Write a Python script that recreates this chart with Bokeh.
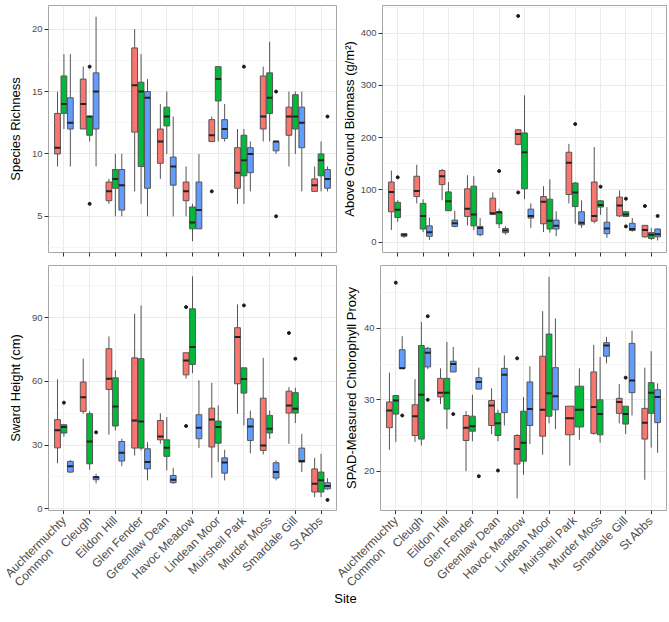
import math
from bokeh.plotting import figure
from bokeh.models import Range1d, FixedTicker, Label
from bokeh.core.properties import value
from bokeh.layouts import column, row
from bokeh.embed import file_html
from bokeh.resources import INLINE

SITES = ["Auchtermuchty\nCommon", "Cleugh", "Eildon Hill", "Glen Fender", "Greenlaw Dean",
         "Havoc Meadow", "Lindean Moor", "Muirsheil Park", "Murder Moss", "Smardale Gill", "St Abbs"]
GROUP_COLORS = ["#F8766D", "#00BA38", "#619CFF"]

# each entry: (lower whisker, Q1, median, Q3, upper whisker); None = group absent at that site
RICH_RED = [(9, 10, 10.5, 13.25, 15), (12, 12, 14, 16, 17), (6, 6.25, 7, 7.75, 8), (7, 11.75, 15.5, 18.5, 20),
            (8, 9.25, 11, 12, 14), (5, 6.25, 7, 7.75, 9), (11, 11, 11.5, 12.75, 13), (6, 7.25, 8.5, 10.5, 12),
            (11, 12, 13, 16.25, 17), (9, 11.5, 13, 13.75, 15), (7, 7, 7.5, 8, 9)]
RICH_GREEN = [(12, 13.25, 14, 16.25, 18), (11, 11.5, 13, 13, 13), (5, 7.25, 8, 8.75, 10), (6, 9, 15, 15.75, 18),
              (10, 12.25, 13, 13.75, 15), (3, 4, 4.5, 5.75, 6), (11, 14.25, 16, 17, 17), (6, 8.25, 9.5, 11.5, 12),
              (11, 13.25, 14.5, 16.5, 19), (10, 12, 13, 14.75, 15), (7, 8.25, 9.5, 10, 11)]
RICH_BLUE = [(9, 12, 12.5, 14.5, 18), (9, 12, 15, 16.5, 21), (5, 5.5, 7.5, 8.75, 10), (5, 7.25, 14.5, 15, 16),
             (5, 7.5, 9, 9.75, 13), (4, 4, 5.5, 7.75, 10), (11, 11.25, 12, 12.75, 14), (7, 8.5, 10, 10.5, 11),
             (10, 10.25, 11, 11, 11), (7, 10.5, 12.5, 13.75, 15), (7, 7.25, 8, 8.75, 9)]
# (site number, group index, value)
RICH_OUT = [(2, 1, 17), (2, 1, 6), (7, 0, 7), (8, 1, 17), (9, 2, 15), (9, 2, 5), (11, 2, 13)]

BIO_RED = [(23, 58, 96, 115, 137), (74, 87, 98, 126, 148), (80, 110, 126, 137, 140), (32, 49, 64, 102, 128),
           (52, 53, 55, 84, 95), (185, 187, 207, 215, 215), (19, 35, 77, 87, 107), (74, 91, 152, 172, 188),
           (36, 40, 50, 115, 182), (48, 50, 70, 86, 99), (8, 10, 23, 32, 32)]
BIO_GREEN = [(39, 47, 62, 76, 80), (19, 25, 50, 74, 82), (60, 60, 78, 96, 115), (23, 31, 53, 107, 126),
             (27, 35, 57, 58, 64), (82, 102, 172, 209, 281), (18, 25, 41, 82, 120), (35, 68, 95, 113, 115),
             (52, 67, 71, 79, 80), (48, 49, 53, 58, 59), (4, 7, 14, 18, 27)]
BIO_BLUE = [(8, 11, 14, 16, 17), (4, 11, 19, 31, 47), (28, 30, 36, 42, 60), (11, 14, 27, 30, 46),
            (14, 18, 22, 26, 30), (27, 46, 50, 63, 74), (11, 25, 31, 42, 59), (27, 33, 37, 58, 80),
            (8, 16, 26, 38, 67), (20, 22, 25, 36, 46), (3, 10, 15, 25, 26)]
BIO_OUT = [(1, 1, 124), (5, 1, 136), (6, 0, 433), (6, 0, 95), (8, 1, 226), (9, 1, 106), (10, 1, 83),
           (10, 1, 30), (11, 0, 69), (11, 2, 50)]

SW_RED = [(21.5, 28.7, 37, 42, 61), (44.8, 45.9, 52.6, 59.7, 70.7), (34.9, 56.2, 61.3, 75.4, 81.2),
          (25.1, 28.6, 41.6, 71.1, 91.9), (30.6, 32.5, 34.1, 41.6, 45), (61.3, 63.1, 69.9, 73.5, 73.5),
          (14.6, 29.1, 42.1, 47.4, 59.4), (44.8, 58.9, 80.9, 85.3, 96.3), (25.6, 27.5, 29.8, 52.1, 71.1),
          (30.6, 45.1, 48.7, 55.4, 57.3), (5.5, 7.9, 11.8, 18.8, 24)]
SW_GREEN = [(34, 35.7, 38.5, 39.6, 39.6), (18.4, 21.2, 31.7, 44.8, 45.9), (36.9, 39, 48.2, 61.7, 65.2),
            (27.5, 28.6, 41.1, 70.7, 95.8), (18.1, 24.7, 28.7, 32.5, 43.2), (63.9, 68, 76.2, 94.2, 109.5),
            (22, 30.9, 38.5, 41.3, 48.7), (39.3, 54.5, 61.1, 66.4, 66.4), (33, 35.7, 37.7, 44, 46.3),
            (40.4, 45.1, 47.1, 54.7, 57), (5.5, 7.9, 13.4, 17.3, 25.9)]
SW_BLUE = [(16.8, 17.3, 20, 22.3, 23), (12, 13.7, 14.9, 15.2, 16.5), (20.1, 22.5, 26.4, 31.7, 33),
           (13.4, 18.8, 22, 28.3, 31.4), (11.8, 12.3, 13.7, 15.7, 19.3), (28.6, 33, 38.2, 44.3, 60.5),
           (13.4, 16.8, 21.8, 24, 27.8), (26.2, 32.2, 38.8, 42.4, 46.3), (13.4, 14.5, 17.3, 21.7, 22.8),
           (17.3, 22, 22.5, 28.6, 35.3), (9, 9.4, 10.7, 12.3, 14.4)]
SW_OUT = [(1, 1, 50), (2, 2, 36), (6, 0, 95), (6, 0, 39), (8, 1, 95.8), (10, 0, 82.8), (10, 1, 70.7), (11, 2, 4.2)]

SP_RED = [(23, 26.1, 28.5, 29.7, 33.8), (24.1, 25, 27.7, 29.3, 32.9), (29.4, 30.4, 31, 33, 34.4),
          (20, 24.3, 26.1, 27.8, 28.4), (25.2, 26.4, 29.2, 29.9, 31.6), (16.2, 21, 23.1, 25, 25.2),
          (22.3, 24.9, 28.6, 36.1, 42.4), (20.8, 25.1, 27.4, 29.1, 29.1), (25.1, 25.3, 29, 33.9, 37.7),
          (26.7, 28.1, 29.7, 30.2, 32.2), (18.8, 24.5, 26.8, 28.8, 34.5)]
SP_GREEN = [(24.1, 28, 29.9, 30.6, 30.6), (23.6, 24.5, 30.7, 37.6, 40.9), (25.9, 28.7, 31, 33, 38.1),
            (24.2, 25.6, 26.3, 27.7, 30.7), (24.2, 25, 26.7, 28.1, 28.6), (19.5, 21.4, 24, 28.4, 30.4),
            (26.7, 27.7, 30.9, 39.2, 47.2), (24.4, 26.2, 28.6, 31.9, 34.4), (24, 25.1, 28, 30, 36),
            (25.2, 26.6, 28, 29.1, 29.1), (23.3, 28.1, 31, 32.4, 36.8)]
SP_BLUE = [(34.4, 34.4, 34.4, 37, 38.9), (34.3, 34.6, 36.6, 37.2, 37.4), (33.9, 33.9, 35, 35.4, 37.4),
           (31.5, 31.5, 32.5, 33.1, 34.5), (26.4, 28.2, 33.5, 34.4, 36.2), (23.8, 26.4, 28.7, 32.5, 34.7),
           (25.9, 28.6, 30.5, 34.5, 41.4), None, (35.1, 36.1, 37.6, 38, 38.8),
           (27.8, 31, 32.7, 37.9, 39.7), (22.6, 26.8, 30.4, 31.4, 32.3)]
SP_OUT = [(1, 1, 46.4), (1, 2, 27.8), (2, 2, 41.7), (2, 2, 30), (3, 2, 28), (4, 2, 19.3), (5, 1, 20.1),
          (6, 0, 35.8), (10, 1, 33.1)]

FONT = "Liberation Sans"
XLAB_SIZE = 12
ANG = math.pi / 4
X_START, X_END = 0.4, 11.6
LEFT_FRAME = (48, 288)     # frame left edge and width (px) of left column
RIGHT_FRAME = (380, 286)   # frame left edge and width (px) of right column
TOTAL_W = 669
LABEL_H = 108


def dodge(groups, site_i, g):
    present = [k for k in range(3) if groups[k][site_i] is not None]
    n = len(present)
    slot = 0.75 / n
    k = present.index(g) if g in present else 0
    return (site_i + 1) + (k - (n - 1) / 2) * slot, slot * 0.9


def make_fig(width, height, yr, yticks, yminor, ylabel, borders, label_standoff):
    bl, br, bt, bb = borders
    p = figure(width=width, height=height, x_range=Range1d(X_START, X_END), y_range=Range1d(*yr),
               output_backend="svg", toolbar_location=None,
               min_border_left=bl, min_border_right=br, min_border_top=bt, min_border_bottom=bb)
    p.background_fill_color = "white"
    p.border_fill_color = "white"
    p.outline_line_color = "#A6A6A6"
    p.outline_line_width = 1
    p.xaxis.ticker = FixedTicker(ticks=list(range(1, 12)))
    p.yaxis.ticker = FixedTicker(ticks=yticks, minor_ticks=yminor)
    p.xgrid.grid_line_color = "#EBEBEB"
    p.ygrid.grid_line_color = "#EBEBEB"
    p.ygrid.minor_grid_line_color = "#F5F5F5"
    for ax in p.xaxis + p.yaxis:
        ax.axis_line_color = None
        ax.major_tick_line_color = "#333333"
        ax.major_tick_out = 4
        ax.major_tick_in = 0
        ax.minor_tick_line_color = None
        ax.major_label_text_font = FONT
        ax.major_label_text_color = "#4D4D4D"
        ax.axis_label_text_font = FONT
        ax.axis_label_text_font_style = "normal"
        ax.axis_label_text_color = "black"
    p.yaxis.major_label_text_font_size = "9.5px"
    p.yaxis.major_label_standoff = 2
    p.yaxis.axis_label = ylabel
    p.yaxis.axis_label_text_font_size = "13px"
    p.yaxis.axis_label_standoff = label_standoff
    p.xaxis.major_label_overrides = {i + 1: "" for i in range(11)}
    p.xaxis.major_label_text_font_size = "1px"
    p.xaxis.major_label_standoff = 0
    return p


def draw(p, groups, outliers):
    for g in range(3):
        L, R, lo, q1, md, q3, hi, xs = [], [], [], [], [], [], [], []
        for i, st in enumerate(groups[g]):
            if st is None:
                continue
            x, w = dodge(groups, i, g)
            L.append(x - w / 2); R.append(x + w / 2); xs.append(x)
            lo.append(st[0]); q1.append(st[1]); md.append(st[2]); q3.append(st[3]); hi.append(st[4])
        p.segment(x0=xs, x1=xs, y0=q3, y1=hi, line_color="#555555", line_width=1)
        p.segment(x0=xs, x1=xs, y0=lo, y1=q1, line_color="#555555", line_width=1)
        p.quad(left=L, right=R, bottom=q1, top=q3, fill_color=GROUP_COLORS[g],
               line_color="#555555", line_width=1)
        p.segment(x0=L, x1=R, y0=md, y1=md, line_color="#222222", line_width=2)
    ox = [dodge(groups, s - 1, g)[0] for s, g, v in outliers]
    oy = [v for s, g, v in outliers]
    p.scatter(ox, oy, size=3, color="#1A1A1A")


p1 = make_fig(338, 262, (2.1, 21.9), [5, 10, 15, 20], [2.5, 7.5, 12.5, 17.5], "Species Richness",
              (48, 2, 5, 10), 6)
draw(p1, [RICH_RED, RICH_GREEN, RICH_BLUE], RICH_OUT)

p2 = make_fig(331, 262, (-20, 453), [0, 100, 200, 300, 400], [50, 150, 250, 350, 450],
              "Above Ground Biomass (g/m²)", (42, 3, 3, 9), 1)
draw(p2, [BIO_RED, BIO_GREEN, BIO_BLUE], BIO_OUT)

p3 = make_fig(338, 252, (-0.8, 114.6), [0, 30, 60, 90], [15, 45, 75, 105], "Sward Height (cm)",
              (48, 2, 3, 4), 6)
draw(p3, [SW_RED, SW_GREEN, SW_BLUE], SW_OUT)

p4 = make_fig(331, 252, (14.5, 48.8), [20, 30, 40], [15, 25, 35, 45], "SPAD-Measured Chlorophyll Proxy",
              (42, 3, 3, 4), 2)
draw(p4, [SP_RED, SP_GREEN, SP_BLUE], SP_OUT)


# ---- strip under the bottom panels holding the rotated site names and the "Site" title ----
def strip_range(frame):
    left, w = frame
    ppx = w / (X_END - X_START)
    start = X_START - left / ppx
    return Range1d(start, start + TOTAL_W / ppx)


p6 = figure(width=TOTAL_W, height=LABEL_H, x_range=strip_range(LEFT_FRAME), y_range=Range1d(0, LABEL_H),
            output_backend="svg", toolbar_location=None, x_axis_location=None, y_axis_location=None,
            min_border_left=0, min_border_right=0, min_border_top=0, min_border_bottom=0)
p6.extra_x_ranges = {"right": strip_range(RIGHT_FRAME)}
p6.grid.grid_line_color = None
p6.outline_line_color = None

c, s = math.cos(ANG), math.sin(ANG)
lh = XLAB_SIZE * 1.1
gap = (6.669 - 4.056) * XLAB_SIZE        # width difference of the two lines of the first label (Arial metrics)
anchor_y = LABEL_H - 4

names, xs, xo, yo = [], [], [], []
for i, name in enumerate(SITES):
    lines = name.split("\n")
    names.append(lines[0]); xs.append(i + 1); xo.append(0); yo.append(0)
    if len(lines) > 1:
        # second line sits one line below, left-aligned with the first
        names.append(lines[1]); xs.append(i + 1); xo.append(lh * s - gap * c); yo.append(lh * c + gap * s)

for rng in ("default", "right"):
    p6.text(x=xs, y=[anchor_y] * len(xs), text=names, angle=ANG, x_offset=xo, y_offset=yo,
            text_align="right", text_baseline="middle", text_font=value(FONT),
            text_font_size=value(f"{XLAB_SIZE}px"), text_color="#4D4D4D", x_range_name=rng)

p6.add_layout(Label(x=345, y=LABEL_H - (598 - 514), x_units="screen", text="Site", text_align="center",
                    text_baseline="middle", text_font=FONT, text_font_size="13px", text_color="black"))

layout = column(row(p1, p2), row(p3, p4), p6)
open("out.html", "w").write(file_html(layout, INLINE))
